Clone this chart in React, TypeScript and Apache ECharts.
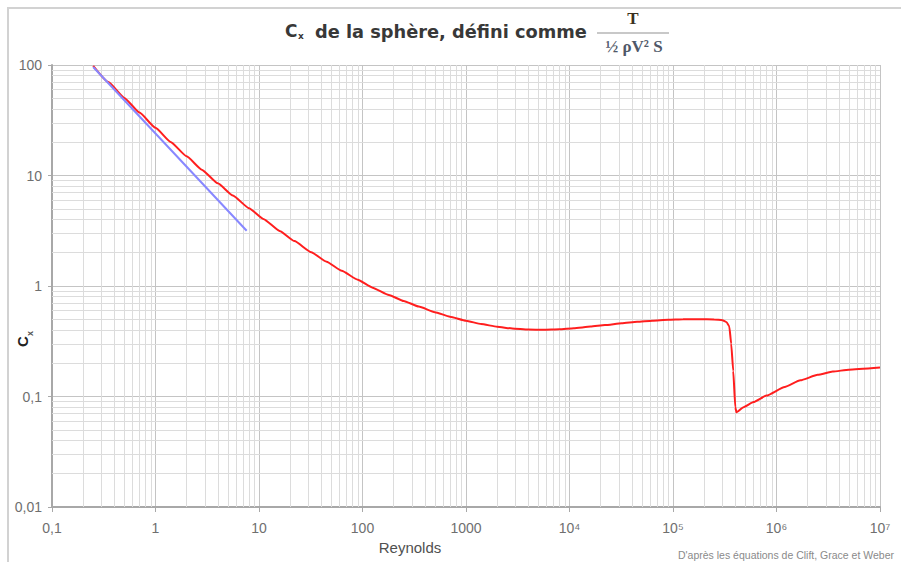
import React, { useEffect, useRef } from "react";
import * as echarts from "echarts";

// Red curve: drag coefficient of the sphere vs Reynolds number
const reynolds = [
  0.25, 0.35, 0.5, 0.7, 1, 1.4, 2, 2.8, 4, 5.6, 8, 11, 16, 22, 32, 45, 63, 90, 125, 180, 250, 350,
  500, 700, 1000, 1400, 2000, 2800, 4000, 5600, 8000, 11000, 16000, 22000, 32000, 45000, 63000,
  90000, 125000, 180000, 250000, 300000, 330000, 350000, 365000, 382000, 400000, 410000, 480000,
  600000, 800000, 1200000, 1700000, 2500000, 3500000, 5000000, 10000000,
];
const cdSphere = [
  98, 70, 50.4, 37.1, 27, 20.1, 14.9, 11.3, 8.5, 6.58, 5.06, 4.05, 3.13, 2.55, 2.02, 1.66, 1.375,
  1.14, 0.966, 0.829, 0.732, 0.651, 0.58, 0.528, 0.485, 0.453, 0.428, 0.412, 0.403, 0.402, 0.406,
  0.415, 0.429, 0.443, 0.46, 0.474, 0.485, 0.494, 0.499, 0.5, 0.498, 0.49, 0.47, 0.43, 0.3, 0.17,
  0.08, 0.072, 0.08, 0.089, 0.102, 0.122, 0.14, 0.157, 0.168, 0.175, 0.183,
];
// Blue line: Stokes regime
const stokesRe = [0.25, 1, 7.6];
const stokesCd = [96, 24, 3.16];

const xTickValues = [0.1, 1, 10, 100, 1000, 1e4, 1e5, 1e6, 1e7];
const xTickLabels = ["0,1", "1", "10", "100", "1000", "10⁴", "10⁵", "10⁶", "10⁷"];
const yTickValues = [0.01, 0.1, 1, 10, 100];
const yTickLabels = ["0,01", "0,1", "1", "10", "100"];
const minorMultipliers = [2, 3, 4, 5, 6, 7, 8, 9];

const labelFor = (values: number[], labels: string[]) => (v: number) => {
  const e = Math.round(Math.log10(v));
  const i = values.findIndex((t) => Math.round(Math.log10(t)) === e);
  return i >= 0 ? labels[i] : "";
};

const minorLines = (decades: number[]) => {
  const out: number[] = [];
  decades.slice(0, -1).forEach((d) => minorMultipliers.forEach((m) => out.push(d * m)));
  return out;
};

const SANS = "'Liberation Sans', Arial, sans-serif";
const WIDE = "'DejaVu Sans', Verdana, sans-serif";
const SERIF = "'Liberation Serif', 'Times New Roman', serif";

export default function App() {
  const ref = useRef<HTMLDivElement>(null);
  useEffect(() => {
    const chart = echarts.init(ref.current!, null, { renderer: "svg" });
    const xMinor = minorLines(xTickValues);
    const yMinor = minorLines(yTickValues);
    chart.setOption({
      animation: false,
      backgroundColor: "#ffffff",
      grid: { left: 52, top: 65, width: 828, height: 442, containLabel: false },
      xAxis: {
        type: "log",
        logBase: 10,
        min: 0.1,
        max: 1e7,
        splitNumber: 8,
        axisLine: { show: true, lineStyle: { color: "#a8a8a8", width: 2 } },
        axisTick: { show: true, length: 5, lineStyle: { color: "#a8a8a8", width: 1 } },
        axisLabel: {
          margin: 14,
          color: "#6f6f6f",
          fontSize: 14,
          fontFamily: SANS,
          showMinLabel: true,
          showMaxLabel: true,
          hideOverlap: false,
          formatter: labelFor(xTickValues, xTickLabels),
        },
        splitLine: { show: true, lineStyle: { color: "#c4c4c4", width: 1 } },
        minorTick: { show: false },
        minorSplitLine: { show: false },
      },
      yAxis: {
        type: "log",
        logBase: 10,
        min: 0.01,
        max: 100,
        splitNumber: 4,
        axisLine: { show: true, lineStyle: { color: "#a8a8a8", width: 2 } },
        axisTick: { show: true, length: 4, lineStyle: { color: "#a8a8a8", width: 1 } },
        axisLabel: {
          margin: 10,
          color: "#6f6f6f",
          fontSize: 14,
          fontFamily: SANS,
          showMinLabel: true,
          showMaxLabel: true,
          formatter: labelFor(yTickValues, yTickLabels),
        },
        splitLine: { show: true, lineStyle: { color: "#c4c4c4", width: 1 } },
      },
      series: [
        {
          type: "line",
          name: "grid",
          z: 1,
          data: [],
          silent: true,
          markLine: {
            silent: true,
            z: 1,
            symbol: ["none", "none"],
            label: { show: false },
            animation: false,
            lineStyle: { color: "#dcdcdc", width: 1, type: "solid" },
            emphasis: { disabled: true },
            data: [
              ...xMinor.map((v) => ({ xAxis: v })),
              ...yMinor.map((v) => ({ yAxis: v })),
            ],
          },
        },
        {
          type: "line",
          name: "Cx",
          z: 10,
          data: reynolds.map((r, i) => [r, cdSphere[i]]),
          showSymbol: false,
          smooth: 0.15,
          smoothMonotone: "x",
          lineStyle: { color: "#ff1e1e", width: 2 },
          itemStyle: { color: "#ff1e1e" },
        },
        {
          type: "line",
          name: "Stokes",
          z: 11,
          data: stokesRe.map((r, i) => [r, stokesCd[i]]),
          showSymbol: false,
          lineStyle: { color: "#8888ff", width: 2 },
          itemStyle: { color: "#8888ff" },
        },
      ],
      graphic: [
        {
          type: "rect",
          silent: true,
          shape: { x: 8, y: 8, width: 900, height: 556 },
          style: { fill: "none", stroke: "#d2d2d2", lineWidth: 2 },
        },
        {
          type: "text",
          x: 285,
          y: 31,
          style: { text: "C", fontSize: 17, fontWeight: "bold", fontFamily: WIDE, fill: "#383838", textVerticalAlign: "middle" },
        },
        {
          type: "text",
          x: 298,
          y: 36,
          style: { text: "x", fontSize: 9, fontWeight: "bold", fontFamily: WIDE, fill: "#383838", textVerticalAlign: "middle" },
        },
        {
          type: "text",
          x: 315,
          y: 31,
          style: {
            text: "de la sphère, défini comme",
            fontSize: 17.8,
            fontWeight: "bold",
            fontFamily: WIDE,
            fill: "#383838",
            textVerticalAlign: "middle",
          },
        },
        {
          type: "text",
          x: 633,
          y: 18,
          style: { text: "T", fontSize: 17, fontWeight: "bold", fontFamily: SERIF, fill: "#3a3020", textAlign: "center", textVerticalAlign: "middle" },
        },
        {
          type: "line",
          shape: { x1: 597, y1: 33, x2: 669, y2: 33 },
          style: { stroke: "#c8c8c8", lineWidth: 2 },
        },
        {
          type: "text",
          x: 634,
          y: 46,
          style: { text: "½ ρV² S", fontSize: 17, fontWeight: "bold", fontFamily: SERIF, fill: "#4f5868", textAlign: "center", textVerticalAlign: "middle" },
        },
        {
          type: "group",
          x: 30,
          y: 347,
          rotation: Math.PI / 2,
          children: [
            { type: "text", x: 0, y: 0, style: { text: "C", fontSize: 15, fontWeight: "bold", fontFamily: SANS, fill: "#222", textVerticalAlign: "bottom" } },
            { type: "text", x: 11, y: 4, style: { text: "x", fontSize: 9, fontWeight: "bold", fontFamily: SANS, fill: "#555", textVerticalAlign: "bottom" } },
          ],
        },
        {
          type: "text",
          x: 410,
          y: 547,
          style: { text: "Reynolds", fontSize: 15, fontFamily: SANS, fill: "#505050", textAlign: "center", textVerticalAlign: "middle" },
        },
        {
          type: "text",
          x: 678,
          y: 555,
          style: {
            text: "D'après les équations de Clift, Grace et Weber",
            fontSize: 10.5,
            fontFamily: SANS,
            fill: "#8a8a8a",
            textVerticalAlign: "middle",
          },
        },
      ],
    });
    return () => chart.dispose();
  }, []);
  return (
    <div
      ref={ref}
      style={{ position: "fixed", left: 0, top: 0, width: 901, height: 562, background: "#fff" }}
    />
  );
}
